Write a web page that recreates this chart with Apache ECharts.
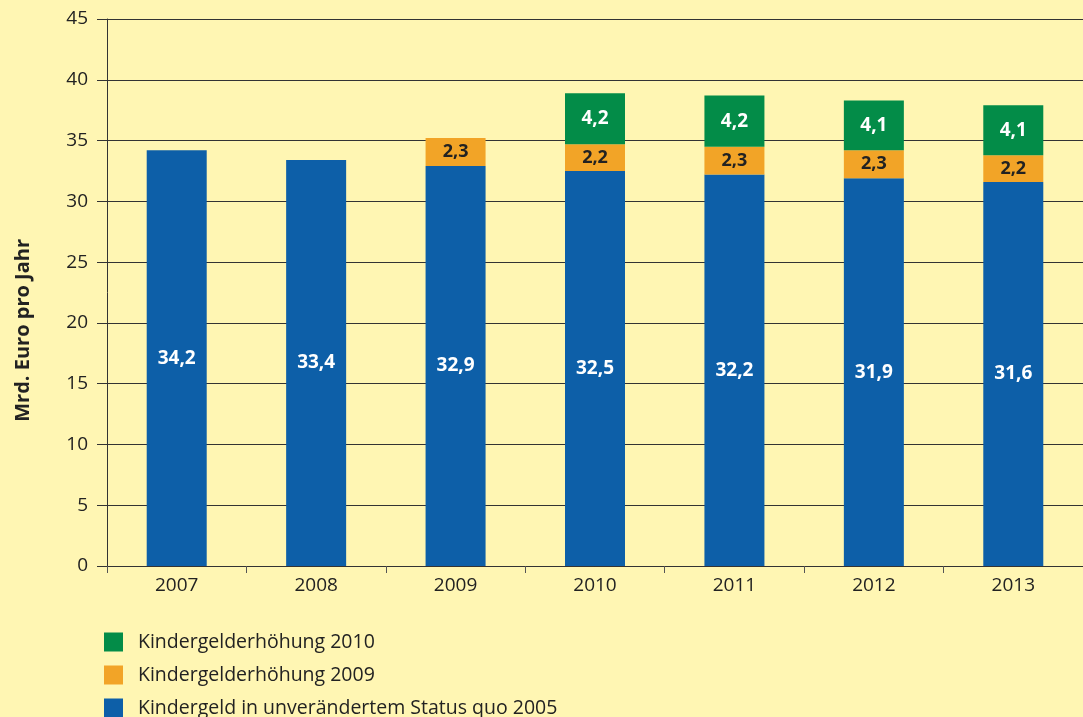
<!DOCTYPE html>
<html>
<head>
<meta charset="utf-8">
<script src="https://cdn.jsdelivr.net/npm/echarts@6/dist/echarts.min.js"></script>
<style>
  html, body { margin: 0; padding: 0; background: #fff6b3; }
  #chart { width: 1083px; height: 717px; }
</style>
</head>
<body>
<div id="chart"></div>
<script>
var years = ['2007', '2008', '2009', '2010', '2011', '2012', '2013'];
var statusQuo = [34.2, 33.4, 32.9, 32.5, 32.2, 31.9, 31.6];
var erhoehung2009 = [null, null, 2.3, 2.2, 2.3, 2.3, 2.2];
var erhoehung2010 = [null, null, null, 4.2, 4.2, 4.1, 4.1];
var seriesNames = ['Kindergeld in unverändertem Status quo 2005', 'Kindergelderhöhung 2009', 'Kindergelderhöhung 2010'];

var fontFam = '"Open Sans", "Noto Sans", sans-serif';

function fmt(p) {
	return String(p.value).replace('.', ',');
}

var chart = echarts.init(document.getElementById('chart'));

chart.setOption({
	backgroundColor: '#fff6b3',
	animation: false,
	grid: { left: 107, right: 0, top: 19, bottom: 151 },
	legend: {
		orient: 'vertical',
		left: 99,
		top: 627,
		height: 120,
		icon: 'rect',
		itemWidth: 19,
		itemHeight: 19,
		itemGap: 13,
		data: [seriesNames[2], seriesNames[1], seriesNames[0]],
		textStyle: { fontFamily: fontFam, fontSize: 19.5, lineHeight: 19, color: '#222', padding: [0, 0, 0, 10] }
	},
	graphic: [{
		type: 'text',
		left: 13,
		top: 239,
		rotation: Math.PI / 2,
		style: {
			text: 'Mrd. Euro pro Jahr',
			font: 'bold 20px "Open Sans", "Noto Sans", sans-serif',
			fill: '#222'
		}
	}],
	xAxis: {
		type: 'category',
		data: years,
		axisLine: { lineStyle: { color: '#333', width: 1 } },
		axisTick: { show: true, length: 7, lineStyle: { color: '#555' } },
		axisLabel: { fontFamily: fontFam, fontSize: 19, color: '#222', margin: 10 }
	},
	yAxis: {
		type: 'value',
		min: 0,
		max: 45,
		interval: 5,
		axisLine: { show: true, lineStyle: { color: '#333', width: 1 } },
		axisTick: { show: true, length: 10, lineStyle: { color: '#333' } },
		axisLabel: { fontFamily: fontFam, fontSize: 19, color: '#222', margin: 19 },
		splitLine: { lineStyle: { color: '#333', width: 1 } }
	},
	series: [{
		name: seriesNames[0],
		type: 'bar',
		stack: 'total',
		barWidth: 60,
		data: statusQuo,
		itemStyle: { color: '#0d5fa8' },
		label: { show: true, position: 'inside', formatter: fmt, color: '#fff', fontFamily: fontFam, fontWeight: 'bold', fontSize: 19 }
	}, {
		name: seriesNames[1],
		type: 'bar',
		stack: 'total',
		barWidth: 60,
		data: erhoehung2009,
		itemStyle: { color: '#f2a427' },
		label: { show: true, position: 'inside', formatter: fmt, color: '#222', fontFamily: fontFam, fontWeight: 'bold', fontSize: 18 }
	}, {
		name: seriesNames[2],
		type: 'bar',
		stack: 'total',
		barWidth: 60,
		data: erhoehung2010,
		itemStyle: { color: '#038c48' },
		label: { show: true, position: 'inside', formatter: fmt, color: '#fff', fontFamily: fontFam, fontWeight: 'bold', fontSize: 19 }
	}]
});
</script>
</body>
</html>
